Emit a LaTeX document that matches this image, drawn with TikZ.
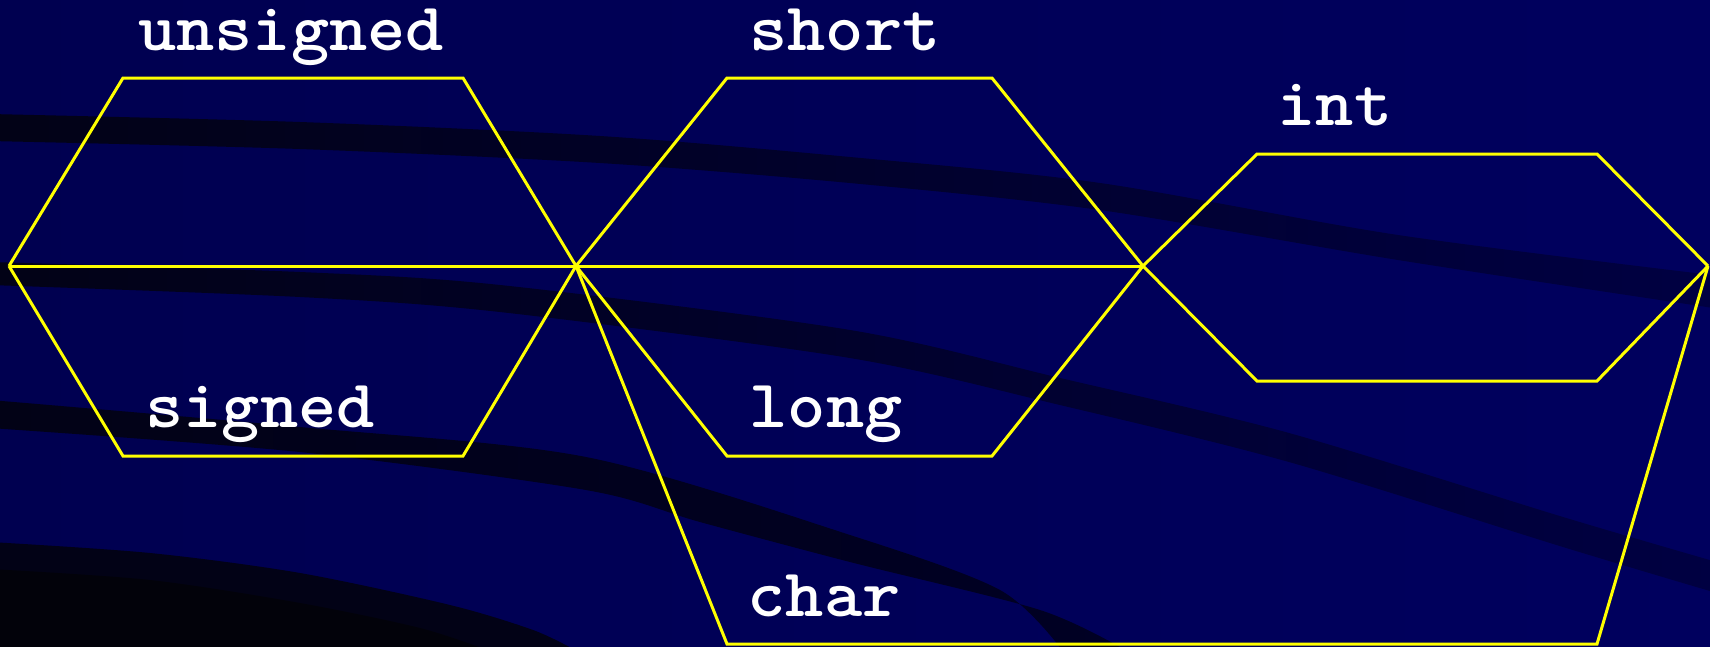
\documentclass[tikz,border=0pt]{standalone}
\usepackage{fontspec}
\newfontfamily\lblfont{lmmonolt10-bold.otf}[FakeStretch=1.07]
\definecolor{bgL}{RGB}{0,0,80}
\definecolor{bgR}{RGB}{0,0,94}
\definecolor{bandL}{RGB}{2,2,22}
\definecolor{bandR}{RGB}{0,0,66}
\definecolor{bandM}{RGB}{0,0,36}
\definecolor{deep}{RGB}{2,2,10}
\definecolor{hexyellow}{RGB}{255,255,0}
\begin{document}
\begin{tikzpicture}[x=1pt,y=-1pt,
  outline/.style={draw=hexyellow, line width=3pt, line join=miter},
  lbl/.style={text=white, font=\lblfont\fontsize{68}{68}\selectfont, anchor=base, inner sep=0pt},
  bandA/.style={left color=bandL, right color=bandR},
  bandB/.style={left color=bandL, right color=bandM}]
\useasboundingbox (0,0) rectangle (1710,646);
\begin{scope}
\clip (0,0) rectangle (1710,646);
\shade[left color=bgL, right color=bgR] (0,0) rectangle (1710,646);
% band 1
\shade[bandA] plot[smooth] coordinates {(-10,114) (300,122) (600,136) (850,157) (1100,183) (1398,235) (1720,276)}
  -- plot[smooth] coordinates {(1720,309) (1398,260) (1100,210) (850,183) (600,163) (300,149) (-10,141)} -- cycle;
% band 2
\shade[bandA] plot[smooth] coordinates {(-10,262) (300,272) (500,285) (850,330) (1060,378) (1289,433) (1563,517) (1720,563)}
  -- plot[smooth] coordinates {(1720,594) (1563,547) (1289,462) (1060,405) (850,358) (500,312) (300,297) (-10,285)} -- cycle;
% band 3
\shade[bandB] plot[smooth] coordinates {(-10,400) (300,427) (586,457) (850,535) (1000,590) (1062,650)}
  -- plot[smooth] coordinates {(1125,650) (1040,610) (850,562) (700,522) (586,490) (300,452) (-10,428)} -- cycle;
% band 4
\fill[bandL] plot[smooth] coordinates {(-10,542) (150,553) (300,573) (450,605) (533,630) (575,650)}
  -- (-10,650) -- cycle;
% deep corner
\fill[deep] plot[smooth] coordinates {(-10,569) (150,580) (300,603) (420,628) (487,650)}
  -- (-10,650) -- cycle;
\end{scope}

% vertices
\coordinate (L) at (9,266);
\coordinate (C1) at (576,266);
\coordinate (C2) at (1143,266);
\coordinate (R) at (1708,266);
\coordinate (UTL) at (123,78);
\coordinate (UTR) at (463,78);
\coordinate (SBL) at (123,456);
\coordinate (SBR) at (463,456);
\coordinate (STL) at (727,78);
\coordinate (STR) at (992,78);
\coordinate (LBL) at (727,456);
\coordinate (LBR) at (992,456);
\coordinate (ITL) at (1257,154);
\coordinate (ITR) at (1597,154);
\coordinate (IBL) at (1257,381);
\coordinate (IBR) at (1597,381);
\coordinate (CBL) at (727,644);
\coordinate (CBR) at (1597,644);

\draw[outline] (L) -- (UTL) -- (UTR) -- (C1);
\draw[outline] (L) -- (SBL) -- (SBR) -- (C1);
\draw[outline] (L) -- (C2);
\draw[outline] (C1) -- (STL) -- (STR) -- (C2);
\draw[outline] (C1) -- (LBL) -- (LBR) -- (C2);
\draw[outline] (C2) -- (ITL) -- (ITR) -- (R);
\draw[outline] (C2) -- (IBL) -- (IBR) -- (R);
\draw[outline] (C1) -- (CBL) -- (CBR) -- (R);

\node[lbl] (unsigned) at (291,50) {unsigned};
\node[lbl] (short) at (845,50) {short};
\node[lbl] (int) at (1335,125) {int};
\node[lbl] (signed) at (260,427) {signed};
\node[lbl] (long) at (826,427) {long};
\node[lbl] (char) at (824,616) {char};
\end{tikzpicture}
\end{document}
